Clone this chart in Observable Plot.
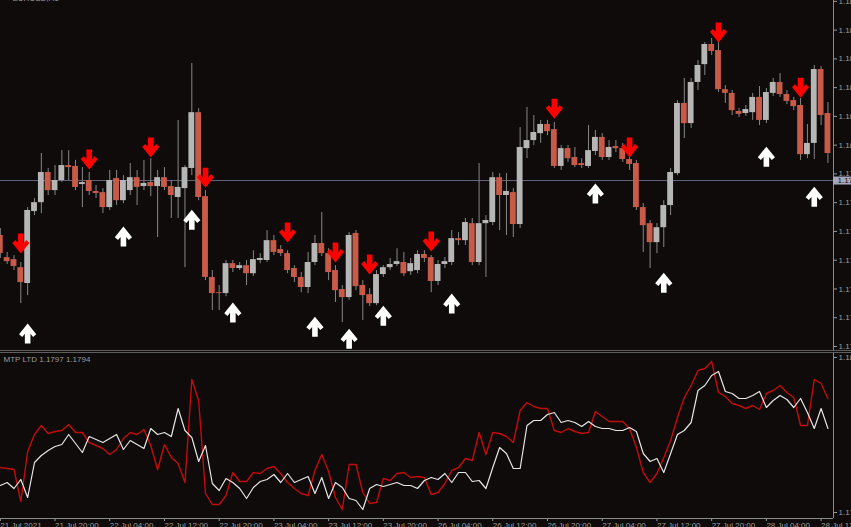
<!DOCTYPE html>
<html><head><meta charset="utf-8">
<script src="https://cdn.jsdelivr.net/npm/d3@7"></script>
<script src="https://cdn.jsdelivr.net/npm/@observablehq/plot@0.6"></script>
<style>
html,body{margin:0;padding:0;background:#0e0b0a;overflow:hidden;width:851px;height:527px;}
#main,#ind{width:851px;height:auto;}
#sep{height:1px;border-top:1px solid #5e5e5e;border-bottom:1px solid #5e5e5e;background:#0e0b0a;}
svg{display:block}
</style></head><body>
<div id="main"></div><div id="sep"></div><div id="ind"></div>
<script>
// EURUSD H1 candles, 21 Jul 2021 12:00 .. 28 Jul 2021 13:00 (index 0..121)
const opens = [1.17686,1.17609,1.17602,1.17574,1.17519,1.17769,1.17800,1.17905,1.17842,1.17877,
1.17929,1.17926,1.17863,1.17877,1.17839,1.17835,1.17783,1.17884,1.17807,1.17842,
1.17887,1.17856,1.17870,1.17856,1.17887,1.17856,1.17818,1.17849,1.17919,1.18113,
1.17821,1.17540,1.17487,1.17484,1.17588,1.17571,1.17581,1.17553,1.17599,1.17599,
1.17668,1.17637,1.17623,1.17571,1.17540,1.17505,1.17592,1.17658,1.17623,1.17564,
1.17498,1.17470,1.17693,1.17512,1.17480,1.17449,1.17550,1.17574,1.17585,1.17592,
1.17560,1.17564,1.17620,1.17609,1.17526,1.17585,1.17592,1.17675,1.17668,1.17727,
1.17592,1.17727,1.17731,1.17887,1.17825,1.17835,1.17724,1.17988,1.18016,1.18040,
1.18072,1.18054,1.17926,1.17988,1.17957,1.17936,1.17926,1.17978,1.18027,1.17957,
1.17995,1.17988,1.17950,1.17936,1.17783,1.17727,1.17661,1.17713,1.17790,1.17901,
1.18145,1.18075,1.18218,1.18280,1.18350,1.18329,1.18193,1.18180,1.18117,1.18110,
1.18113,1.18166,1.18086,1.18180,1.18218,1.18176,1.18155,1.18138,1.17967,1.18006,
1.18263,1.18110];
const highs = [1.17710,1.17627,1.17616,1.17592,1.17783,1.17814,1.17971,1.17919,1.17929,1.17981,
1.17981,1.17947,1.17922,1.17905,1.17860,1.17849,1.17912,1.17912,1.17894,1.17936,
1.17912,1.17947,1.17953,1.17912,1.17922,1.17877,1.18086,1.17929,1.18284,1.18127,
1.17842,1.17564,1.17512,1.17599,1.17599,1.17592,1.17599,1.17633,1.17623,1.17703,
1.17686,1.17651,1.17633,1.17581,1.17557,1.17627,1.17686,1.17766,1.17640,1.17581,
1.17512,1.17696,1.17703,1.17529,1.17501,1.17564,1.17581,1.17606,1.17640,1.17627,
1.17606,1.17633,1.17633,1.17616,1.17599,1.17609,1.17703,1.17696,1.17745,1.17745,
1.17936,1.17755,1.17905,1.17901,1.17901,1.17849,1.18061,1.18131,1.18103,1.18086,
1.18086,1.18079,1.17999,1.17999,1.17992,1.17953,1.18068,1.18051,1.18040,1.18016,
1.18016,1.18006,1.17964,1.17947,1.17797,1.17738,1.17727,1.17807,1.17919,1.18155,
1.18232,1.18232,1.18294,1.18357,1.18371,1.18364,1.18207,1.18190,1.18127,1.18138,
1.18180,1.18204,1.18197,1.18232,1.18249,1.18190,1.18166,1.18162,1.18072,1.18277,
1.18273,1.18148];
const lows = [1.17606,1.17585,1.17564,1.17449,1.17477,1.17755,1.17762,1.17825,1.17825,1.17870,
1.17877,1.17842,1.17783,1.17825,1.17814,1.17762,1.17773,1.17790,1.17797,1.17825,
1.17790,1.17842,1.17821,1.17679,1.17842,1.17745,1.17745,1.17574,1.17894,1.17807,
1.17529,1.17425,1.17425,1.17473,1.17557,1.17564,1.17512,1.17543,1.17588,1.17592,
1.17616,1.17613,1.17553,1.17522,1.17487,1.17484,1.17581,1.17613,1.17529,1.17453,
1.17383,1.17460,1.17494,1.17390,1.17439,1.17442,1.17540,1.17564,1.17578,1.17543,
1.17547,1.17553,1.17592,1.17487,1.17512,1.17571,1.17581,1.17651,1.17651,1.17581,
1.17581,1.17540,1.17720,1.17703,1.17686,1.17679,1.17710,1.17953,1.17999,1.18006,
1.18033,1.17919,1.17912,1.17940,1.17922,1.17919,1.17919,1.17964,1.17947,1.17947,
1.17974,1.17940,1.17912,1.17773,1.17627,1.17571,1.17623,1.17644,1.17755,1.17894,
1.18023,1.18058,1.18190,1.18242,1.18312,1.18183,1.18145,1.18103,1.18096,1.18100,
1.18086,1.18068,1.18075,1.18169,1.18166,1.18141,1.18120,1.17947,1.17953,1.17950,
1.18068,1.17936];
const closes = [1.17623,1.17595,1.17578,1.17522,1.17773,1.17800,1.17905,1.17842,1.17877,1.17929,
1.17922,1.17853,1.17870,1.17839,1.17832,1.17783,1.17877,1.17807,1.17877,1.17887,
1.17853,1.17867,1.17856,1.17887,1.17853,1.17825,1.17853,1.17922,1.18113,1.17818,
1.17540,1.17484,1.17484,1.17588,1.17571,1.17581,1.17553,1.17602,1.17606,1.17668,
1.17627,1.17623,1.17564,1.17540,1.17505,1.17592,1.17658,1.17623,1.17557,1.17494,
1.17470,1.17686,1.17508,1.17477,1.17449,1.17550,1.17574,1.17585,1.17595,1.17553,
1.17588,1.17620,1.17606,1.17526,1.17585,1.17595,1.17675,1.17668,1.17731,1.17592,
1.17727,1.17738,1.17887,1.17825,1.17839,1.17724,1.17992,1.18016,1.18044,1.18072,
1.18047,1.17926,1.17988,1.17953,1.17929,1.17929,1.17981,1.18027,1.17957,1.17992,
1.17988,1.17950,1.17933,1.17783,1.17720,1.17661,1.17713,1.17790,1.17905,1.18145,
1.18075,1.18218,1.18277,1.18350,1.18326,1.18193,1.18180,1.18120,1.18107,1.18124,
1.18166,1.18086,1.18183,1.18218,1.18176,1.18152,1.18134,1.17967,1.18006,1.18263,
1.18103,1.17971];

// signal arrows (bar index, price level)
const sellIdx = [3,13,22,30,42,49,54,63,81,92,105,117];
const sellPrice = [1.17658,1.17950,1.17992,1.17887,1.17696,1.17627,1.17585,1.17665,1.18127,1.17992,1.18392,1.18200];
const buyIdx = [4,18,28,34,46,51,56,66,87,97,112,119];
const buyPrice = [1.17345,1.17682,1.17741,1.17418,1.17369,1.17327,1.17407,1.17449,1.17832,1.17522,1.17960,1.17821];

// MTP LTD indicator buffers
const mtpRed = [1.17900,1.17899,1.17898,1.17866,1.17916,1.17933,1.17942,1.17934,1.17936,1.17937,
1.17943,1.17935,1.17935,1.17925,1.17922,1.17919,1.17913,1.17918,1.17929,1.17935,
1.17933,1.17938,1.17922,1.17898,1.17923,1.17910,1.17904,1.17885,1.17988,1.17967,
1.17874,1.17863,1.17863,1.17872,1.17895,1.17886,1.17886,1.17895,1.17894,1.17899,
1.17901,1.17894,1.17885,1.17879,1.17874,1.17872,1.17897,1.17913,1.17896,1.17870,
1.17858,1.17903,1.17903,1.17875,1.17864,1.17865,1.17889,1.17887,1.17894,1.17895,
1.17890,1.17891,1.17890,1.17873,1.17875,1.17884,1.17897,1.17900,1.17909,1.17907,
1.17935,1.17913,1.17935,1.17934,1.17931,1.17925,1.17957,1.17965,1.17961,1.17959,
1.17959,1.17937,1.17935,1.17939,1.17936,1.17934,1.17935,1.17956,1.17951,1.17946,
1.17946,1.17946,1.17939,1.17920,1.17895,1.17885,1.17894,1.17910,1.17927,1.17950,
1.17970,1.17982,1.17997,1.17999,1.18006,1.17975,1.17971,1.17964,1.17962,1.17959,
1.17962,1.17958,1.17974,1.17977,1.17982,1.17975,1.17970,1.17942,1.17942,1.17988,
1.17984,1.17969];
const mtpWhite = [1.17882,1.17885,1.17879,1.17888,1.17870,1.17905,1.17912,1.17917,1.17921,1.17923,
1.17933,1.17924,1.17915,1.17931,1.17928,1.17925,1.17929,1.17933,1.17918,1.17927,
1.17923,1.17919,1.17939,1.17933,1.17935,1.17931,1.17959,1.17937,1.17930,1.17906,
1.17922,1.17884,1.17877,1.17889,1.17885,1.17879,1.17869,1.17880,1.17886,1.17888,
1.17893,1.17885,1.17894,1.17885,1.17888,1.17891,1.17874,1.17890,1.17869,1.17885,
1.17880,1.17869,1.17867,1.17858,1.17879,1.17883,1.17881,1.17883,1.17885,1.17882,
1.17882,1.17879,1.17887,1.17890,1.17888,1.17894,1.17885,1.17895,1.17895,1.17886,
1.17887,1.17879,1.17900,1.17920,1.17914,1.17899,1.17899,1.17942,1.17947,1.17947,
1.17953,1.17955,1.17945,1.17947,1.17945,1.17941,1.17946,1.17941,1.17939,1.17939,
1.17937,1.17937,1.17940,1.17936,1.17914,1.17906,1.17909,1.17895,1.17914,1.17933,
1.17937,1.17945,1.17977,1.17982,1.17992,1.17996,1.17976,1.17974,1.17969,1.17969,
1.17972,1.17976,1.17960,1.17967,1.17972,1.17968,1.17960,1.17969,1.17955,1.17939,
1.17959,1.17939];

const priceTicks = [1.1850,1.1840,1.1830,1.1820,1.1810,1.1800,1.1790,1.1780,1.1770,1.1760,1.1750,1.1740,1.1730];
const indTicks = [1.1801,1.17855];
const bidPrice = 1.17877;
const timeTickIdx = [0,8,16,24,32,40,48,56,64,72,80,88,96,104,112,120];
const timeTickLabels = ["21 Jul 2021","21 Jul 20:00","22 Jul 04:00","22 Jul 12:00","22 Jul 20:00","23 Jul 04:00","23 Jul 12:00","23 Jul 20:00","26 Jul 04:00","26 Jul 12:00","26 Jul 20:00","27 Jul 04:00","27 Jul 12:00","27 Jul 20:00","28 Jul 04:00","28 Jul 12:00"];
const symbolTitle = "EURUSD,H1";
const indTitle = "MTP LTD 1.1797 1.1794";

// ---- tables
const bars = opens.map((o, i) => ({i, open: o, high: highs[i], low: lows[i], close: closes[i], x1: i - 0.5, x2: i + 0.5}));
const bulls = bars.filter(d => d.close >= d.open);
const bears = bars.filter(d => d.close < d.open);
const sells = sellIdx.map((i, k) => ({i, price: sellPrice[k]}));
const buys = buyIdx.map((i, k) => ({i, price: buyPrice[k]}));
const ind = mtpRed.map((r, i) => ({i, red: r, white: mtpWhite[i]}));
const timeTicks = timeTickIdx.map((i, k) => ({i, label: timeTickLabels[k]}));

function arrow(dir) {
  const pts = [[-2.8,-10],[2.8,-10],[2.8,-0.3],[5.4,-3.4],[8.6,-0.6],[0,10],[-8.6,-0.6],[-5.4,-3.4],[-2.8,-0.3]];
  return {draw(ctx, size) {
    const k = Math.sqrt(size / Math.PI) / 10;
    pts.forEach(([x, y], j) => j ? ctx.lineTo(x * k, y * k * dir) : ctx.moveTo(x * k, y * k * dir));
    ctx.closePath();
  }};
}

const BG = "#0e0b0a", TXT = "#9c9c9c", AX = "#8a8a8a";
const BULL = "#b6b6b6", BEAR = "#c85a48", WICK = "#878787";
const xDomain = [0.0292, 121.813];
const style = {background: BG, color: TXT, fontFamily: "'Liberation Sans', Arial, sans-serif", fontSize: "8px", overflow: "visible"};

const mainPlot = Plot.plot({
  width: 851, height: 350, marginLeft: 0, marginRight: 18, marginTop: 0, marginBottom: 0,
  style,
  x: {domain: xDomain, axis: null},
  y: {domain: [1.17286, 1.18503], axis: "right", ticks: priceTicks, tickFormat: d3.format(".5f"), tickSize: 3, tickPadding: 2, label: null},
  marks: [
    Plot.ruleY([bidPrice], {stroke: "#66637c", strokeWidth: 1}),
    Plot.ruleX(bars, {x: "i", y1: "low", y2: "high", stroke: WICK, strokeWidth: 1}),
    Plot.rect(bulls, {x1: "x1", x2: "x2", y1: "open", y2: "close", fill: BULL, insetLeft: 0.5, insetRight: 0.5}),
    Plot.rect(bears, {x1: "x1", x2: "x2", y1: "open", y2: "close", fill: BEAR, insetLeft: 0.5, insetRight: 0.5}),
    Plot.dot(sells, {x: "i", y: "price", symbol: arrow(1), r: 10, fill: "#ff0000", stroke: "none"}),
    Plot.dot(buys, {x: "i", y: "price", symbol: arrow(-1), r: 10, fill: "#ffffff", stroke: "none"}),
    Plot.ruleX([xDomain[1]], {stroke: AX}),
    Plot.ruleY([bidPrice], {x1: xDomain[1], x2: xDomain[1] + 2.7, stroke: "#a3a8bd", strokeWidth: 8}),
    Plot.text([bidPrice], {x: xDomain[1], y: d => d, text: d => d3.format(".5f")(d), textAnchor: "start", dx: 4, fill: "#15141a"}),
    Plot.text([symbolTitle], {frameAnchor: "top-left", text: d => d, textAnchor: "start", dx: 12, dy: -5, fill: TXT})
  ]
});
document.getElementById("main").appendChild(mainPlot);

const indPlot = Plot.plot({
  width: 851, height: 174, marginLeft: 0, marginRight: 18, marginTop: 0, marginBottom: 9,
  style,
  x: {domain: xDomain, ticks: timeTickIdx, tickFormat: () => "", tickSize: 3, label: null},
  y: {domain: [1.17849, 1.18014], axis: "right", ticks: indTicks, tickFormat: d3.format(".4f"), tickSize: 3, tickPadding: 2, label: null},
  marks: [
    Plot.line(ind, {x: "i", y: "red", stroke: "#c20c0c", strokeWidth: 1.4}),
    Plot.line(ind, {x: "i", y: "white", stroke: "#e6e6e6", strokeWidth: 1.2}),
    Plot.ruleX([xDomain[1]], {stroke: AX}),
    Plot.ruleY([1.17849], {stroke: AX}),
    Plot.text(timeTicks, {x: "i", text: "label", frameAnchor: "bottom", textAnchor: "start", dy: 9, fill: TXT}),
    Plot.text([indTitle], {frameAnchor: "top-left", text: d => d, textAnchor: "start", dx: 3, dy: 3, fill: TXT})
  ]
});
document.getElementById("ind").appendChild(indPlot);
</script>
</body></html>
